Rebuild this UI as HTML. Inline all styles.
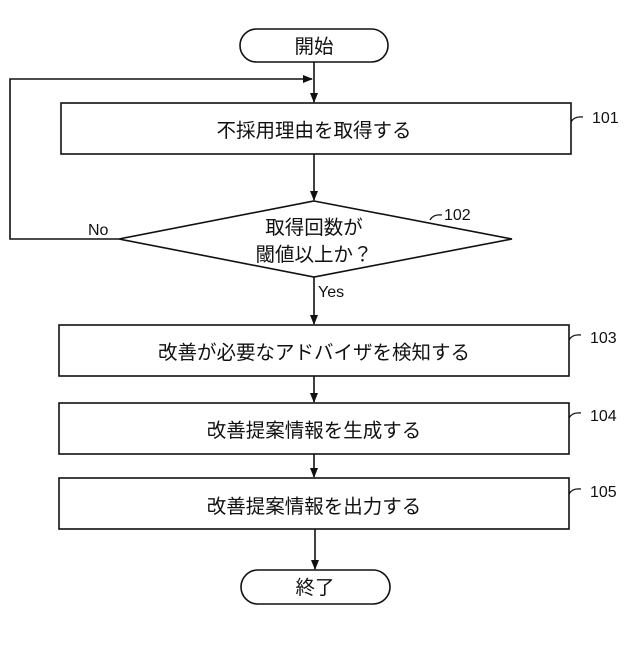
<!DOCTYPE html>
<html><head><meta charset="utf-8"><style>
html,body{margin:0;padding:0;background:#fff}
svg text{font-family:"Liberation Sans","Noto Sans CJK JP",sans-serif;fill:#111}
</style></head><body>
<svg width="640" height="640" viewBox="0 0 640 640" xmlns="http://www.w3.org/2000/svg">
<defs><marker id="a" markerWidth="10" markerHeight="10" refX="9" refY="5" orient="auto" markerUnits="userSpaceOnUse"><path d="M0,1 L10,5 L0,9 z" fill="#111"/></marker></defs>
<g fill="none" stroke="#111" stroke-width="1.6">
<rect x="240" y="29" width="148" height="33" rx="16.5"/>
<line x1="314" y1="62" x2="314" y2="102" marker-end="url(#a)"/>
<polyline points="119,239 10,239 10,79 312,79" marker-end="url(#a)"/>
<rect x="61" y="103" width="510" height="51"/>
<line x1="314" y1="154" x2="314" y2="200" marker-end="url(#a)"/>
<polygon points="314,201 512,239 314,277 119,239"/>
<line x1="314" y1="277" x2="314" y2="324" marker-end="url(#a)"/>
<rect x="59" y="325" width="510" height="51"/>
<line x1="314" y1="376" x2="314" y2="402" marker-end="url(#a)"/>
<rect x="59" y="403" width="510" height="51"/>
<line x1="314" y1="454" x2="314" y2="477" marker-end="url(#a)"/>
<rect x="59" y="478" width="510" height="51"/>
<line x1="315" y1="529" x2="315" y2="569" marker-end="url(#a)"/>
<rect x="241" y="570" width="149" height="34" rx="17"/>
<g stroke-width="1.2">
<path d="M571,122 q3,-6 12,-5"/>
<path d="M430,220 q3,-6 12,-5"/>
<path d="M569,340 q3,-6 12,-5"/>
<path d="M569,418 q3,-6 12,-5"/>
<path d="M569,494 q3,-6 12,-5"/>
</g>
</g>
<g font-size="19.5" text-anchor="middle">
<text x="314" y="53">開始</text>
<text x="314" y="137">不採用理由を取得する</text>
<text x="314" y="234">取得回数が</text>
<text x="314" y="261">閾値以上か？</text>
<text x="314" y="359">改善が必要なアドバイザを検知する</text>
<text x="314" y="437">改善提案情報を生成する</text>
<text x="314" y="513">改善提案情報を出力する</text>
<text x="315" y="594">終了</text>
</g>
<g font-size="16">
<text x="592" y="123">101</text>
<text x="444" y="220">102</text>
<text x="590" y="343">103</text>
<text x="590" y="421">104</text>
<text x="590" y="497">105</text>
<text x="88" y="235">No</text>
<text x="318" y="297">Yes</text>
</g>
</svg>
</body></html>
